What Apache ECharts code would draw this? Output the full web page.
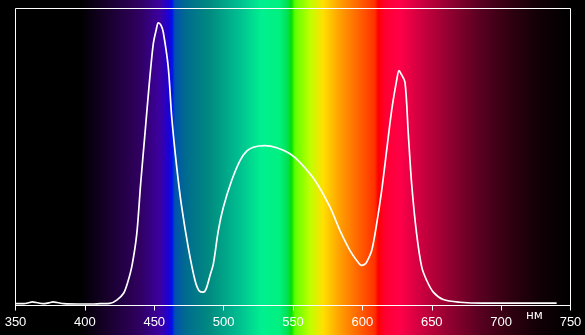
<!DOCTYPE html>
<html>
<head>
<meta charset="utf-8">
<script src="https://cdn.jsdelivr.net/npm/echarts@6/dist/echarts.min.js"></script>
<style>html,body{margin:0;padding:0;background:#000;}#c{width:585px;height:335px;}</style>
</head>
<body>
<div id="c"></div>
<script>
var wavelengths = [350, 356, 360, 362, 365, 370, 374, 377, 380, 385, 395, 405, 411, 418, 423, 428, 431, 434, 437.4, 440.2, 443.3, 446.4, 449.3, 451.5, 452.9, 454.9, 456.5, 460.1, 462.6, 466.2, 469.8, 474.5, 479.4, 482.3, 485.4, 487.3, 490.2, 492.6, 496.2, 499.8, 505.8, 511.8, 516.6, 521.4, 529.8, 538.3, 547.8, 555, 565.9, 576.7, 583.8, 591.1, 597, 599.5, 601.5, 603.1, 606.7, 610.3, 613.9, 617.5, 621.1, 624.7, 626.4, 627.8, 630.7, 633.1, 635.5, 639.1, 642.8, 646.4, 651.1, 658.3, 670.4, 687.1, 700, 720, 740];
var intensity =   [0.6, 0.6, 1.0, 1.2, 1.0, 0.6, 0.9, 1.2, 1.0, 0.6, 0.5, 0.5, 0.6, 0.7, 1.8, 4.2, 8.0, 13.5, 24.1, 41.0, 57.8, 74.6, 88.1, 93.0, 95.2, 94.3, 92.0, 80.2, 63.4, 46.6, 33.1, 19.6, 8.4, 5.0, 4.5, 5.5, 10.1, 14.0, 25.3, 33.1, 42.1, 48.8, 52.0, 53.3, 53.8, 53.1, 51.1, 48.2, 42.1, 33.1, 25.3, 18.5, 14.5, 13.5, 13.8, 14.6, 18.5, 27.5, 38.7, 52.2, 65.7, 75.8, 79.1, 78.1, 75.2, 57.8, 41.0, 24.1, 12.9, 8.4, 4.5, 2.0, 1.1, 0.8, 0.8, 0.8, 0.8];
var tickValues = [350, 400, 450, 500, 550, 600, 650, 700, 750];
var unitLabel = 'нм';

var spectrumStops = [
  [0, '#000000'], [0.117, '#000000'], [0.171, '#1a0030'], [0.224, '#300060'],
  [0.260, '#3c00a0'], [0.275, '#2000d0'], [0.282, '#0010f0'], [0.287, '#0050b0'],
  [0.305, '#006a90'], [0.349, '#008a80'], [0.404, '#00c090'], [0.443, '#00f090'],
  [0.475, '#00f080'], [0.490, '#00e050'], [0.496, '#00e000'], [0.503, '#60ff00'],
  [0.530, '#c0ff00'], [0.553, '#ffe000'], [0.583, '#ffa000'], [0.619, '#ff6000'],
  [0.646, '#ff3000'], [0.652, '#ff0000'], [0.664, '#ff0030'], [0.691, '#ff0048'],
  [0.727, '#d00040'], [0.781, '#900030'], [0.835, '#580020'], [0.889, '#300010'],
  [0.943, '#100005'], [1, '#000000']
];

var chart = echarts.init(document.getElementById('c'), null, {renderer: 'canvas'});
var lineData = wavelengths.map(function (w, i) { return [w, intensity[i]]; });

chart.setOption({
  backgroundColor: '#000000',
  animation: false,
  graphic: [
    {
      type: 'rect', z: -10, silent: true,
      shape: {x: 15, y: 0, width: 557, height: 335},
      style: {
        fill: {
          type: 'linear', x: 0, y: 0, x2: 1, y2: 0,
          colorStops: spectrumStops.map(function (s) { return {offset: s[0], color: s[1]}; })
        }
      }
    },
    {
      type: 'text', z: 10, left: 526, top: 310,
      style: {text: unitLabel, fill: '#ffffff', font: '12px "DejaVu Sans", "Liberation Sans", sans-serif'}
    }
  ],
  grid: {
    left: 15.5, right: 14.5, top: 8.5, bottom: 29.5,
    show: true, borderColor: '#ffffff', borderWidth: 1, backgroundColor: 'transparent'
  },
  xAxis: {
    type: 'value', min: 350, max: 750, interval: 50,
    axisLine: {show: true, lineStyle: {color: '#ffffff', width: 1}},
    axisTick: {show: true, length: 5, lineStyle: {color: '#ffffff'}},
    axisLabel: {
      color: '#ffffff', fontSize: 13, margin: 10,
      fontFamily: '"Liberation Sans", Arial, sans-serif',
      customValues: tickValues
    },
    splitLine: {show: false}
  },
  yAxis: {
    type: 'value', min: 0, max: 100, show: false,
    splitLine: {show: false}
  },
  series: [{
    type: 'line', data: lineData, smooth: 0.3, symbol: 'none',
    lineStyle: {color: '#ffffff', width: 1.7}, z: 5
  }]
});
</script>
</body>
</html>
